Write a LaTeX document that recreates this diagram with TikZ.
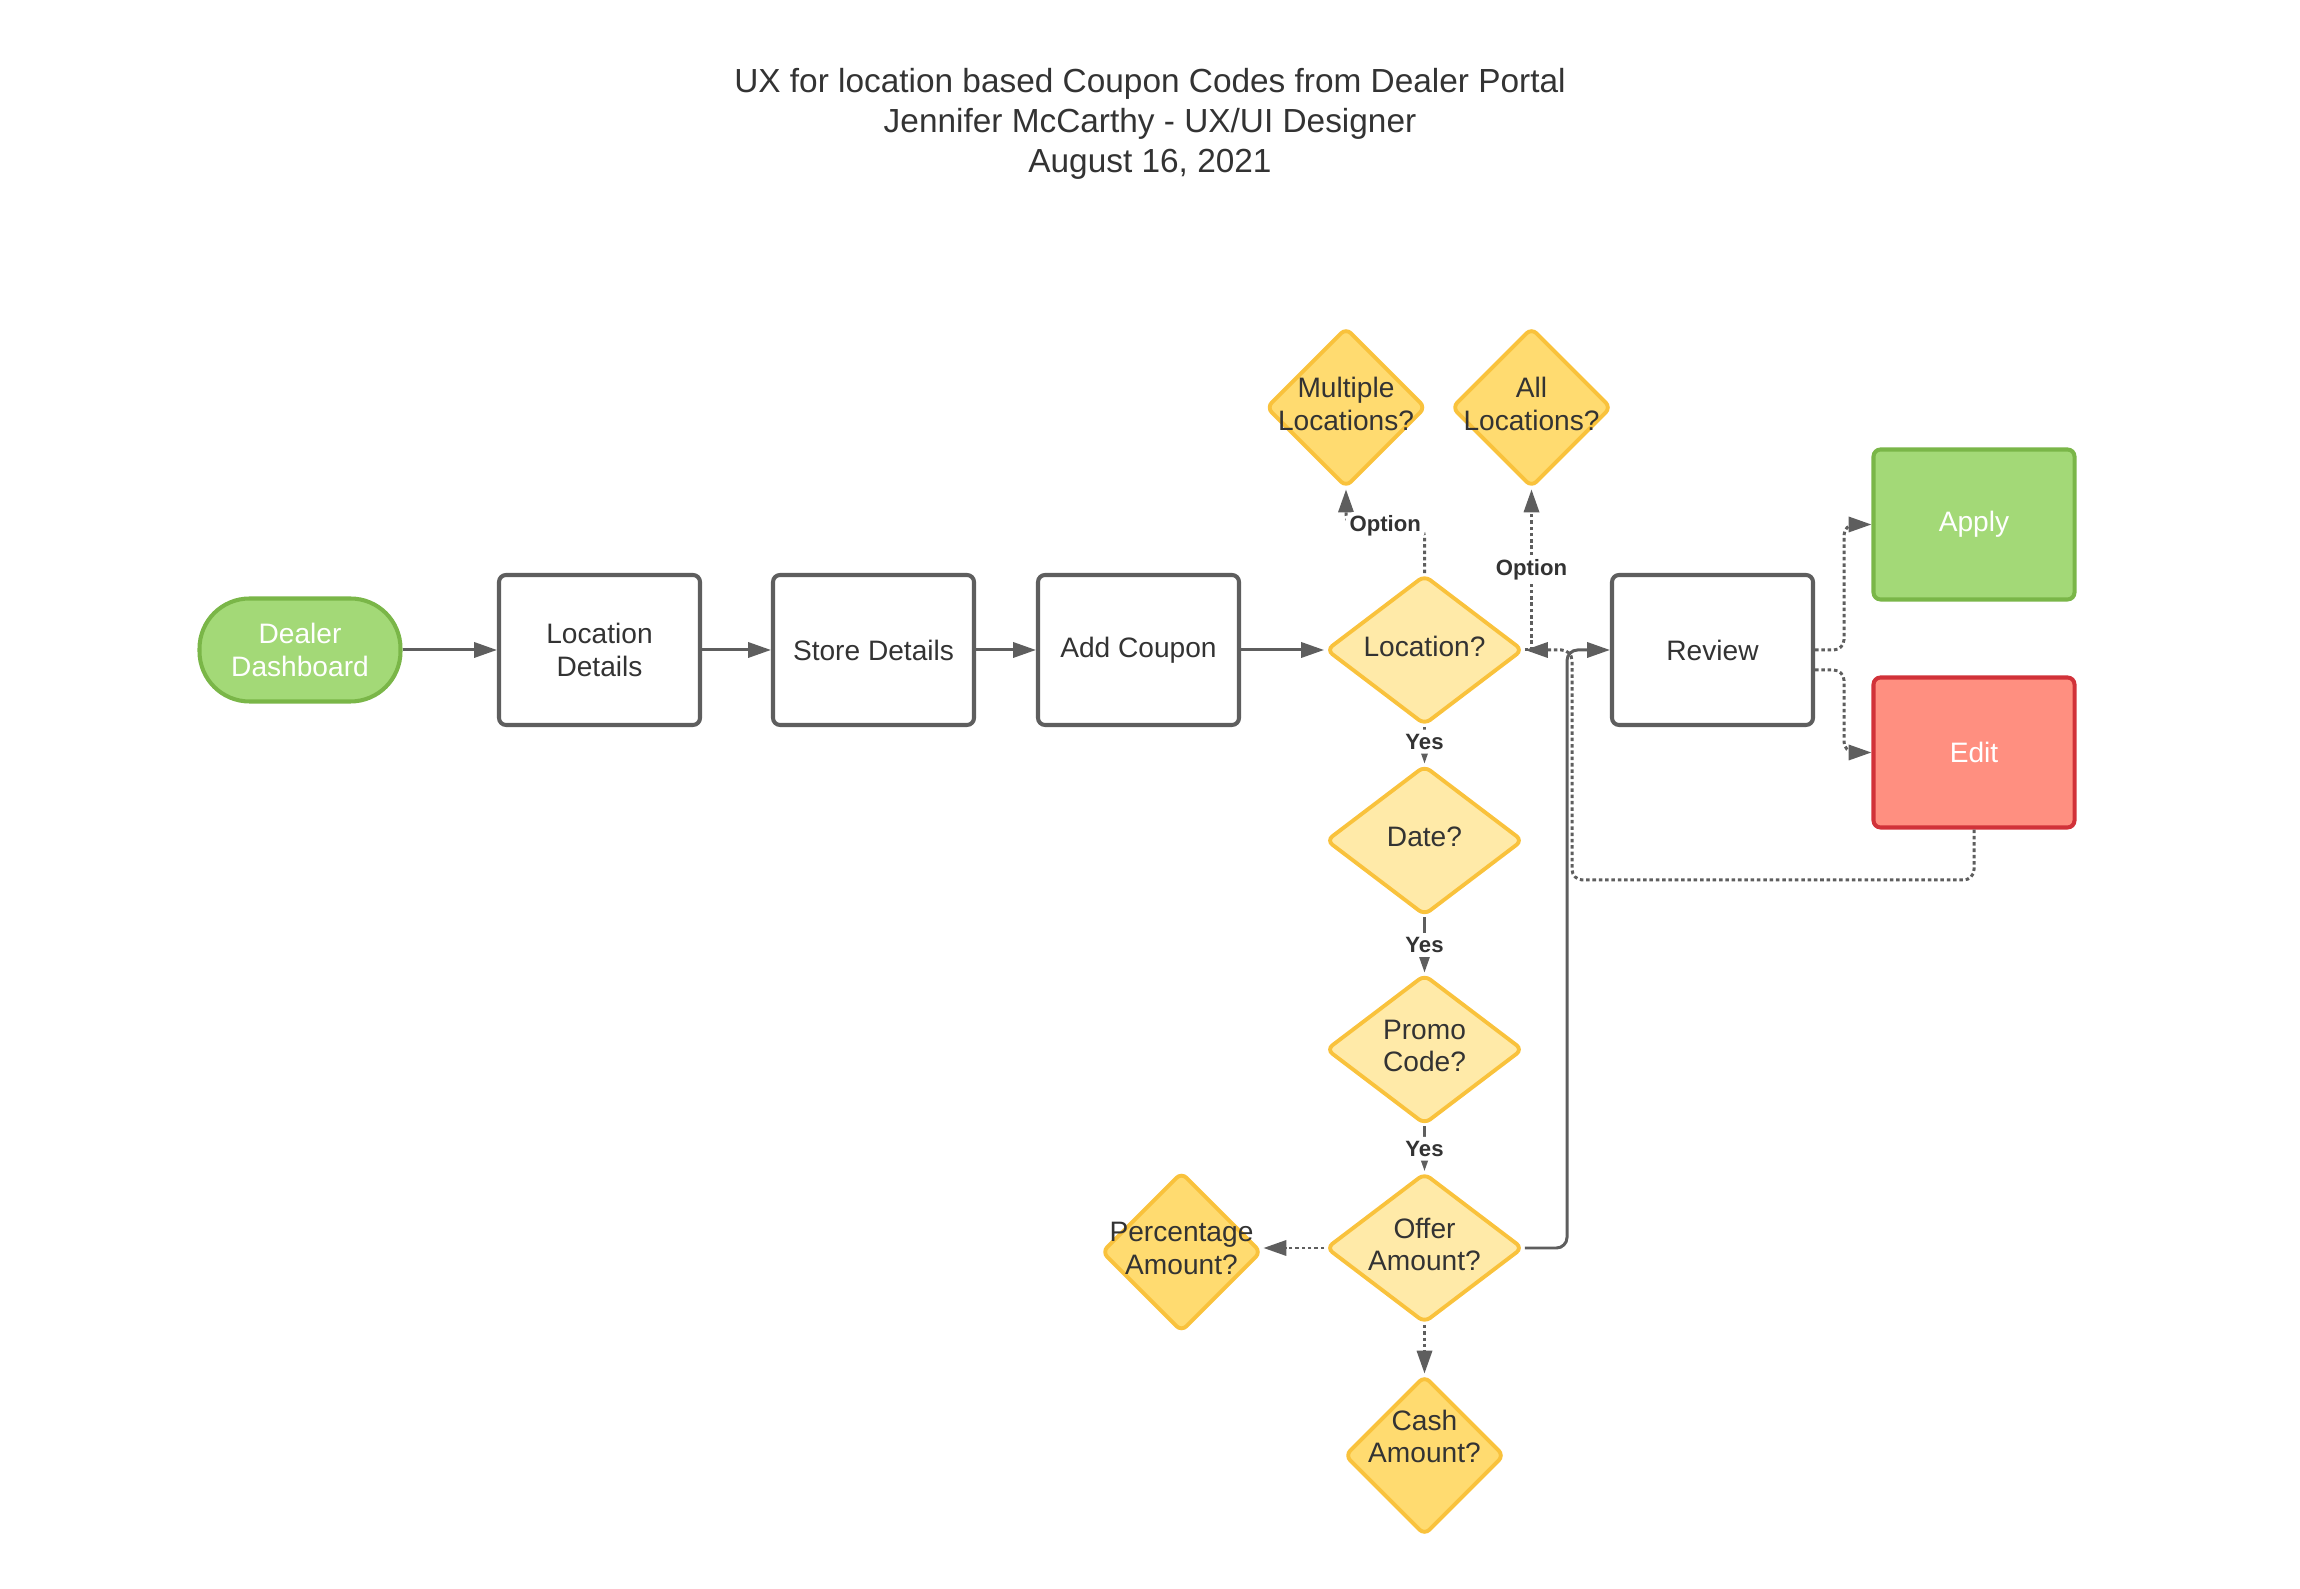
\documentclass[tikz,border=0pt]{standalone}
\usepackage{fontspec}
\setmainfont{Liberation Sans}
\usetikzlibrary{shapes.geometric,arrows.meta}
\definecolor{lgray}{HTML}{5E5E5E}
\definecolor{ink}{HTML}{333333}
\definecolor{gfill}{HTML}{A3D977}
\definecolor{gline}{HTML}{7AB648}
\definecolor{rfill}{HTML}{FF8F80}
\definecolor{rline}{HTML}{D13239}
\definecolor{yline}{HTML}{F9C23C}
\definecolor{ylight}{HTML}{FFEAA8}
\definecolor{ydark}{HTML}{FFDB70}
\tikzset{
  txt/.style={font=\fontsize{8}{9.2}\selectfont, text=ink, align=center},
  box/.style={draw=lgray, line width=1.15pt, rounded corners=2pt, minimum width=2.01cm, minimum height=1.5cm, txt},
  startbox/.style={draw=gline, fill=gfill, line width=1.15pt, rounded corners=0.5cm, minimum width=2.01cm, minimum height=1.03cm, txt, text=white},
  gobox/.style={box, draw=gline, fill=gfill, text=white},
  editbox/.style={box, draw=rline, fill=rfill, text=white},
  dec/.style={diamond, draw=yline, fill=ylight, line width=1.1pt, rounded corners=2pt, inner sep=0pt, minimum width=1.97cm, minimum height=1.5cm},
  subdec/.style={dec, fill=ydark, minimum width=1.6cm, minimum height=1.6cm},
  dtxt/.style={label={[txt, yshift=1pt]center:#1}},
  dtxtup/.style={label={[txt, yshift=5.4pt]center:#1}},
  flow/.style={draw=lgray, line width=0.85pt, rounded corners=3pt, -{Triangle[length=6.5pt,width=4.3pt]}},
  opt/.style={flow, dash pattern=on 1pt off 0.8pt},
  yes/.style={fill=white, inner sep=1.2pt, font=\fontsize{6.3}{7}\selectfont\bfseries, text=ink}
}
\begin{document}
\begin{tikzpicture}
\useasboundingbox (0,0) rectangle (23,-15.89);
\node[txt, font=\fontsize{9.5}{11.4}\selectfont] (title) at (11.5,-1.24) {UX for location based Coupon Codes from Dealer Portal\\Jennifer McCarthy - UX/UI Designer\\August 16, 2021};
% main row
\node[startbox] (dash) at (3.0,-6.5) {Dealer\\Dashboard};
\node[box] (locdet) at (5.995,-6.5) {Location\\Details};
\node[box] (store) at (8.735,-6.5) {Store Details};
\node[box] (addc) at (11.385,-6.5) {Add Coupon};
\node[dec, dtxt={Location?}] (loc) at (14.245,-6.5) {};
\node[box] (review) at (17.125,-6.5) {Review};
\node[gobox] (apply) at (19.74,-5.245) {Apply};
\node[editbox] (edit) at (19.74,-7.525) {Edit};
% decisions
\node[subdec, dtxt={Multiple\\Locations?}] (multi) at (13.46,-4.075) {};
\node[subdec, dtxt={All\\Locations?}] (all) at (15.315,-4.075) {};
\node[dec, dtxt={Date?}] (date) at (14.245,-8.405) {};
\node[dec, dtxt={Promo\\Code?}] (promo) at (14.245,-10.495) {};
\node[dec, dtxt={Offer\\Amount?}] (offer) at (14.245,-12.48) {};
\node[subdec, dtxt={Percentage\\Amount?}] (pct) at (11.815,-12.52) {};
\node[subdec, dtxtup={Cash\\Amount?}] (cash) at (14.245,-14.555) {};
\coordinate (jn) at (15.67,-6.5);
\coordinate (jn2) at (15.72,-8.8);
% connectors
\draw[flow] (dash) -- (locdet);
\draw[flow] (locdet) -- (store);
\draw[flow] (store) -- (addc);
\draw[flow] (addc) -- (loc);
\draw[flow] (loc) -- node[yes, pos=0.4]{Yes} (date);
\draw[flow] (date) -- node[yes]{Yes} (promo);
\draw[flow] (promo) -- node[yes]{Yes} (offer);
\draw[opt] (loc.north) -- ++(0,0.47) -| node[yes, pos=0.25]{Option} (multi.south);
\draw[opt, sharp corners] (loc.east) -| node[yes, pos=0.75]{Option} (all.south);
\draw[opt] (offer.west) -- (offer.west -| pct.east);
\draw[opt] (offer) -- (cash);
\draw[flow] (offer.east) -| (jn) -- (review.west);
\draw[opt] (edit.south) |- (jn2) |- (loc.east);
\draw[opt] (review.east) -- ++(0.29,0) |- (apply.west);
\draw[opt] ([yshift=-0.2cm]review.east) -- ++(0.29,0) |- (edit.west);
\end{tikzpicture}
\end{document}
